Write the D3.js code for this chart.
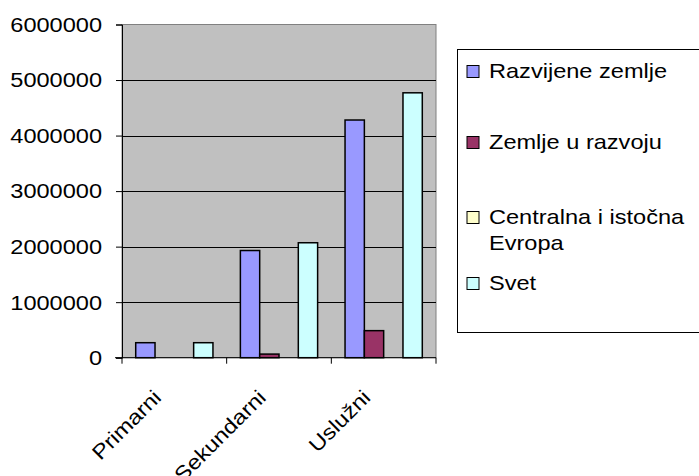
<!DOCTYPE html>
<html>
<head>
<meta charset="utf-8">
<script src="https://cdn.jsdelivr.net/npm/d3@7"></script>
<style>
  html, body { margin: 0; padding: 0; background: #fff; }
  svg { display: block; }
  text { font-family: "Liberation Sans", Arial, sans-serif; fill: #000; }
</style>
</head>
<body>
<svg id="chart" width="699" height="476"></svg>
<script>
const categories = ["Primarni", "Sekundarni", "Uslužni"];
const seriesNames = ["Razvijene zemlje", "Zemlje u razvoju", "Centralna i istočna Evropa", "Svet"];
const razvijene = [270000, 1930000, 4280000];
const uRazvoju = [null, 65000, 487000];
const centralna = [null, null, null];
const svet = [270000, 2070000, 4770000];
const seriesValues = [razvijene, uRazvoju, centralna, svet];
const seriesColors = ["#9999FF", "#993366", "#FFFFCC", "#CCFFFF"];
const yTicks = [0, 1000000, 2000000, 3000000, 4000000, 5000000, 6000000];
const legendLines = [["Razvijene zemlje"], ["Zemlje u razvoju"], ["Centralna i istočna", "Evropa"], ["Svet"]];

const svg = d3.select("#chart");
const plot = { left: 122, top: 24.5, right: 436, bottom: 357.7 };
const SX = 1.15, FS = 20.5;

const x = d3.scaleBand().domain(categories).range([plot.left, plot.right]).padding(0);
const xs = d3.scaleBand().domain(seriesNames).range([0, x.bandwidth()]).paddingInner(0).paddingOuter(0.71);
const y = d3.scaleLinear().domain([0, 6000000]).range([plot.bottom, plot.top]);

// plot background
svg.append("rect")
  .attr("x", plot.left).attr("y", plot.top)
  .attr("width", plot.right - plot.left).attr("height", plot.bottom - plot.top)
  .attr("fill", "#C0C0C0").attr("stroke", "#808080").attr("stroke-width", 1);

// gridlines
svg.append("g").selectAll("line")
  .data(yTicks.filter(v => v > 0 && v < 6000000))
  .join("line")
  .attr("x1", plot.left).attr("x2", plot.right)
  .attr("y1", d => Math.round(y(d)) + 0.5).attr("y2", d => Math.round(y(d)) + 0.5)
  .attr("stroke", "#000").attr("stroke-width", 1);

// bars
const groups = svg.append("g").selectAll("g")
  .data(categories)
  .join("g")
  .attr("transform", d => `translate(${x(d)},0)`);

groups.selectAll("rect")
  .data((c, ci) => seriesNames.map((s, si) => ({ s, si, v: seriesValues[si][ci] })).filter(d => d.v != null && d.v > 0))
  .join("rect")
  .attr("x", d => xs(d.s))
  .attr("width", xs.bandwidth())
  .attr("y", d => y(d.v))
  .attr("height", d => y(0) - y(d.v))
  .attr("fill", d => seriesColors[d.si])
  .attr("stroke", "#000").attr("stroke-width", 1.5);

// y axis
const yAxis = d3.axisLeft(y).tickValues(yTicks).tickSize(6).tickFormat("");
const gy = svg.append("g").attr("transform", `translate(${plot.left},0)`).call(yAxis);
gy.select(".domain").attr("stroke", "#000");
gy.selectAll(".tick line").attr("stroke", "#000");

svg.append("g").selectAll("text")
  .data(yTicks)
  .join("text")
  .attr("transform", d => `translate(102,${y(d)}) scale(${SX},1)`)
  .attr("text-anchor", "end")
  .attr("dy", "0.36em")
  .attr("font-size", FS)
  .text(d => d3.format("d")(d));

// x axis
const gx = svg.append("g").attr("transform", `translate(0,${plot.bottom})`);
gx.append("line").attr("x1", plot.left - 7).attr("x2", plot.right).attr("y1", 0).attr("y2", 0).attr("stroke", "#000");
gx.selectAll("line.tk")
  .data(categories.map(c => x(c)).concat([x(categories[categories.length - 1]) + x.bandwidth()]))
  .join("line").attr("class", "tk")
  .attr("x1", d => d).attr("x2", d => d).attr("y1", 0).attr("y2", 6)
  .attr("stroke", "#000");

gx.selectAll("text")
  .data(categories)
  .join("text")
  .attr("transform", d => `translate(${x(d) + x.bandwidth() / 2 - 22},${31}) rotate(-45) scale(${SX},1)`)
  .attr("text-anchor", "end")
  .attr("dy", "0.7em")
  .attr("font-size", FS)
  .text(d => d);

// legend
const legend = svg.append("g");
legend.append("rect")
  .attr("x", 457.5).attr("y", 49.5).attr("width", 260).attr("height", 283)
  .attr("fill", "#fff").attr("stroke", "#000").attr("stroke-width", 1);
const rowY = [71, 142, 217, 283];
const items = legend.selectAll("g.item")
  .data(seriesNames)
  .join("g").attr("class", "item");
items.append("rect")
  .attr("x", 467).attr("y", (d, i) => rowY[i] - 5.5)
  .attr("width", 12).attr("height", 12)
  .attr("fill", (d, i) => seriesColors[i])
  .attr("stroke", "#000").attr("stroke-width", 1);
items.each(function (d, i) {
  d3.select(this).selectAll("text")
    .data(legendLines[i])
    .join("text")
    .attr("transform", (t, j) => `translate(489,${rowY[i] + j * 26}) scale(${SX},1)`)
    .attr("dy", "0.36em")
    .attr("font-size", FS)
    .text(t => t);
});
</script>
</body>
</html>
